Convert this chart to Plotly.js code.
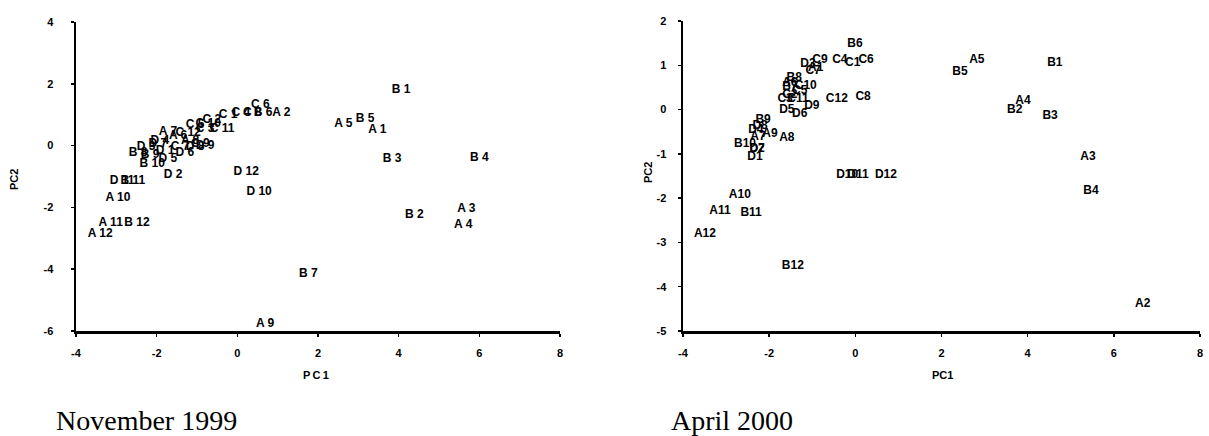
<!DOCTYPE html>
<html>
<head>
<meta charset="utf-8">
<script src="https://cdn.plot.ly/plotly-3.0.1.min.js"></script>
<style>html,body{margin:0;padding:0;background:#fff;}#chart{width:1209px;height:436px;}</style>
</head>
<body>
<div id="chart"></div>
<script>
// ---------- November 1999 ----------
const nov_labels = ["A1","A2","A3","A4","A5","A6","A7","A8","A9","A10","A11","A12",
  "B1","B2","B3","B4","B5","B6","B7","B8","B9","B10","B11","B12",
  "C1","C2","C3","C4","C5","C6","C7","C8","C9","C10","C11","C12",
  "D1","D2","D3","D4","D5","D6","D7","D8","D9","D10","D11","D12"];
const nov_pc1 = [3.47,1.09,5.68,5.60,2.63,-1.47,-1.72,-1.17,0.69,-2.96,-3.14,-3.40,
  4.06,4.39,3.84,6.00,3.17,0.64,1.76,-2.46,-2.16,-2.11,-2.59,-2.49,
  -0.23,-0.63,-0.80,0.09,-1.05,0.57,-1.42,0.37,-0.92,-0.72,-0.38,-1.22,
  -1.79,-1.59,-2.26,-1.92,-1.72,-1.30,-1.97,-1.05,-0.80,0.54,-2.86,0.22];
const nov_pc2 = [0.49,1.04,-2.04,-2.56,0.71,0.32,0.45,0.16,-5.76,-1.68,-2.52,-2.85,
  1.81,-2.23,-0.42,-0.39,0.87,1.04,-4.14,-0.23,-0.32,-0.58,-1.13,-2.52,
  1.00,0.84,0.55,1.04,0.68,1.33,-0.03,1.04,0.06,0.71,0.55,0.42,
  -0.16,-0.94,-0.03,0.16,-0.42,-0.23,0.06,-0.06,0.00,-1.49,-1.13,-0.87];

// ---------- April 2000 ----------
const apr_labels = ["A1","A2","A3","A4","A5","A6","A7","A8","A9","A10","A11","A12",
  "B1","B2","B3","B4","B5","B6","B7","B8","B9","B10","B11","B12",
  "C1","C2","C3","C4","C5","C6","C7","C8","C9","C10","C11","C12",
  "D1","D2","D3","D4","D5","D6","D7","D8","D9","D10","D11","D12"];
const apr_pc1 = [-0.92,6.67,5.40,3.89,2.82,-1.52,-2.26,-1.59,-1.98,-2.68,-3.14,-3.49,
  4.63,3.70,4.52,5.47,2.43,-0.01,-1.52,-1.42,-2.14,-2.56,-2.42,-1.45,
  -0.06,-1.52,-1.63,-0.36,-1.29,0.25,-0.98,0.18,-0.82,-1.15,-1.33,-0.43,
  -2.33,-2.28,-1.10,-2.31,-1.59,-1.29,-2.28,-2.21,-1.01,-0.19,0.06,0.71];
const apr_pc2 = [0.95,-4.40,-1.08,0.20,1.13,0.59,-0.61,-0.65,-0.56,-1.92,-2.30,-2.80,
  1.06,0.00,-0.14,-1.83,0.84,1.47,0.50,0.72,-0.23,-0.77,-2.33,-3.54,
  1.06,0.34,0.25,1.13,0.41,1.13,0.88,0.29,1.13,0.54,0.25,0.25,
  -1.06,-0.88,1.02,-0.45,0.00,-0.09,-0.88,-0.38,0.07,-1.47,-1.47,-1.47];

const x_ticks = [-4,-2,0,2,4,6,8];
const nov_y_ticks = [-6,-4,-2,0,2,4];
const apr_y_ticks = [-5,-4,-3,-2,-1,0,1,2];

const spaced = nov_labels.map(s => s.replace(/^([A-Z])/, '$1 '));

const labelFont = {family: 'Liberation Sans, Arial, sans-serif', size: 12, color: '#000', weight: 'bold'};

const traces = [
  {x: nov_pc1, y: nov_pc2, text: spaced, mode: 'text', type: 'scatter',
   textposition: 'middle center', textfont: labelFont, xaxis: 'x', yaxis: 'y', hoverinfo: 'text'},
  {x: apr_pc1, y: apr_pc2, text: apr_labels, mode: 'text', type: 'scatter',
   textposition: 'middle center', textfont: labelFont, xaxis: 'x2', yaxis: 'y2', hoverinfo: 'text'}
];

const W = 1209, H = 436;
function axis(dom, range, ticks, isY) {
  return {
    domain: dom, range: range, tickvals: ticks, ticktext: ticks.map(String),
    showgrid: false, zeroline: false, showline: true, linecolor: '#000', linewidth: 2.5,
    ticks: 'outside', ticklen: 3, tickwidth: 1.5, tickcolor: '#000',
    tickfont: {family: 'Liberation Sans, Arial, sans-serif', size: 11, color: '#000', weight: 'bold'},
    ticklabelstandoff: isY ? 15 : 7,
    fixedrange: true, automargin: false
  };
}

const ax = {
  xaxis: axis([76/W, 560/W], [-4, 8], x_ticks, false),
  yaxis: axis([(H-331)/H, (H-22)/H], [-6, 4], nov_y_ticks, true),
  xaxis2: axis([683/W, 1200/W], [-4, 8], x_ticks, false),
  yaxis2: axis([(H-331)/H, (H-21)/H], [-5, 2], apr_y_ticks, true)
};
ax.xaxis.anchor = 'y'; ax.yaxis.anchor = 'x';
ax.xaxis2.anchor = 'y2'; ax.yaxis2.anchor = 'x2';
ax.yaxis2.ticklabelstandoff = 9;

const tf = {family: 'Liberation Sans, Arial, sans-serif', size: 11, color: '#000', weight: 'bold'};
const capf = {family: 'Liberation Serif, Times New Roman, serif', size: 28, color: '#000'};
const annotations = [
  {text: 'P\u2009C\u20091', x: 316/W, y: (H-375)/H, xref: 'paper', yref: 'paper', showarrow: false, font: tf, xanchor: 'center', yanchor: 'middle'},
  {text: 'PC2', x: 14/W, y: (H-180)/H, xref: 'paper', yref: 'paper', showarrow: false, font: tf, textangle: -90, xanchor: 'center', yanchor: 'middle'},
  {text: 'PC1', x: 942/W, y: (H-375)/H, xref: 'paper', yref: 'paper', showarrow: false, font: tf, xanchor: 'center', yanchor: 'middle'},
  {text: 'PC2', x: 648/W, y: (H-172)/H, xref: 'paper', yref: 'paper', showarrow: false, font: tf, textangle: -90, xanchor: 'center', yanchor: 'middle'},
  {text: 'November 1999', x: 54/W, y: (H-420)/H, xref: 'paper', yref: 'paper', showarrow: false, font: capf, xanchor: 'left', yanchor: 'middle'},
  {text: 'April 2000', x: 669/W, y: (H-420)/H, xref: 'paper', yref: 'paper', showarrow: false, font: capf, xanchor: 'left', yanchor: 'middle'}
];

const layout = Object.assign({
  width: W, height: H, margin: {l: 0, r: 0, t: 0, b: 0, pad: 0},
  paper_bgcolor: '#fff', plot_bgcolor: '#fff', showlegend: false,
  annotations: annotations
}, ax);

Plotly.newPlot('chart', traces, layout, {staticPlot: true, displayModeBar: false});
</script>
</body>
</html>
